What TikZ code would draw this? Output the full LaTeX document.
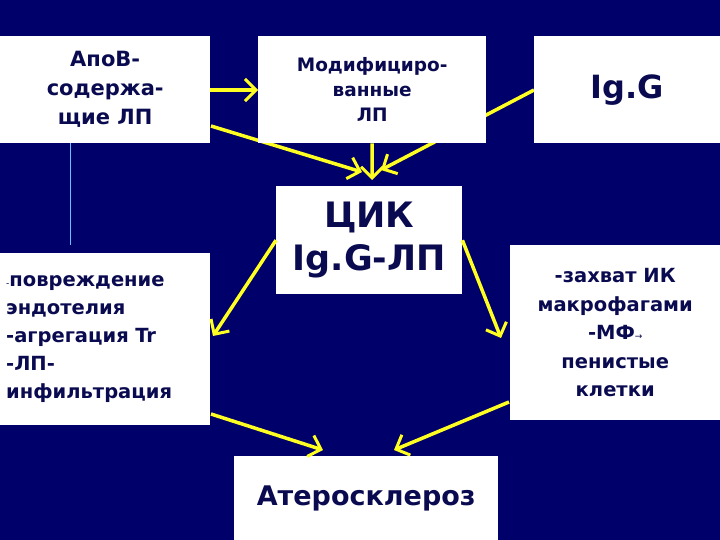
\documentclass[tikz,border=0pt]{standalone}
\usepackage{fontspec}
\setmainfont{DejaVu Sans}
\usetikzlibrary{arrows.meta}
\definecolor{bg}{HTML}{00006A}
\definecolor{txt}{HTML}{0A0A50}
\definecolor{arr}{HTML}{FFFF22}
\tikzset{
 box/.style={fill=white,draw=none,anchor=north west,inner sep=2pt,text=txt,font=\bfseries,align=center},
 yarr/.style={draw=arr,line width=3.5pt,-{Straight Barb[length=11pt,width=22pt,line width=3pt]}},
}
\begin{document}
\begin{tikzpicture}[x=1pt,y=-1pt]
\fill[bg] (0,0) rectangle (720,540);
\useasboundingbox (0,0) rectangle (720,540);
\draw[color=blue!40!cyan!60,line width=1pt] (70,143) -- (70,245);
\coordinate (igs) at (534,90);
\coordinate (t1) at (362,172);
\coordinate (t2) at (372,180);
\coordinate (t3) at (381,170);
\draw[yarr] (igs) -- (t3);
\draw[yarr] (211,126) -- (t1);
\node[box,minimum width=210pt,minimum height=107pt,font=\bfseries\fontsize{21}{29}\selectfont] (a) at (0,36) {АпоВ-\\содержа-\\щие ЛП};
\node[box,minimum width=228pt,minimum height=107pt,font=\bfseries\fontsize{18.5}{25}\selectfont] (m) at (258,36) {Модифициро-\\ванные\\ЛП};
\node[box,minimum width=186pt,minimum height=107pt,font=\bfseries\fontsize{32}{36}\selectfont] (g) at (534,36) {Ig.G};
\node[box,minimum width=186pt,minimum height=108pt,font=\bfseries\fontsize{35}{43}\selectfont] (c) at (276,186) {ЦИК\\Ig.G-ЛП};
\node[box,minimum width=210pt,minimum height=172pt,align=left,text width=204pt,inner sep=3pt,font=\bfseries\fontsize{19.5}{28}\selectfont] (l) at (0,253) {\hspace*{3pt}{\mdseries\small -}повреждение\\\hspace*{3pt}эндотелия\\\hspace*{3pt}-агрегация Tr\\\hspace*{3pt}-ЛП-\\\hspace*{3pt}инфильтрация};
\node[box,minimum width=210pt,minimum height=175pt,font=\bfseries\fontsize{19.5}{28.5}\selectfont] (r) at (510,245) {-захват ИК\\макрофагами\\-МФ{\mdseries\small →}\\пенистые\\клетки};
\node[box,minimum width=264pt,minimum height=84pt,font=\bfseries\fontsize{27}{32}\selectfont] (at) at (234,456) {Атеросклероз};
\draw[yarr] (a.east|-0,90) -- (m.west|-0,90);
\draw[yarr] (m.south) -- (t2);
\draw[yarr] (c.west) -- (213,336);
\draw[yarr] (c.east) -- (501,338);
\draw[yarr] (211,414) -- (323,450);
\draw[yarr] (509,402) -- (394,450);
\end{tikzpicture}
\end{document}
